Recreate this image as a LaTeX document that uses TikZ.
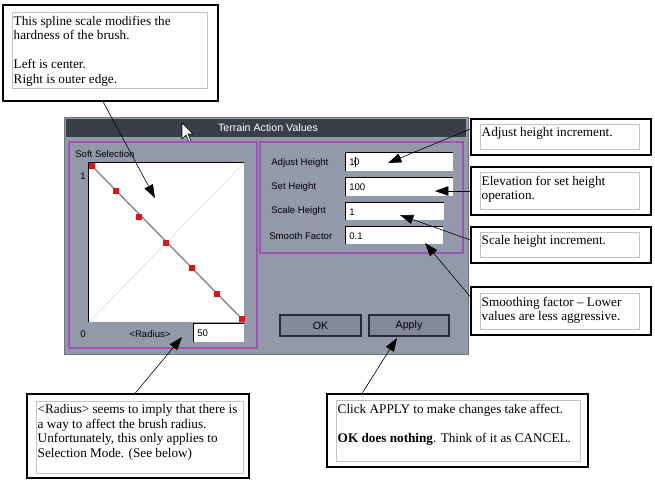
\documentclass[tikz,border=0pt]{standalone}
\usepackage{fontspec}
\setmainfont{Liberation Serif}
\setsansfont{Liberation Sans}
\usetikzlibrary{arrows.meta,fit}

\definecolor{dlgbg}{RGB}{146,154,170}
\definecolor{dlgedge}{RGB}{110,116,128}
\definecolor{dlgtitle}{RGB}{58,62,72}
\definecolor{btnbg}{RGB}{130,138,152}
\definecolor{panelline}{RGB}{160,82,182}
\definecolor{knotred}{RGB}{225,20,20}
\definecolor{hintgrey}{RGB}{195,195,195}

\tikzset{
  outerbox/.style={draw=black, line width=0.8pt, fill=white, inner sep=0pt},
  innerbox/.style={draw=hintgrey, line width=0.6pt, inner sep=0pt},
  hint/.style={font=\fontsize{9.9}{10.9}\selectfont, align=left, anchor=north west, inner sep=1.4pt, yshift=-1.5pt},
  pointer/.style={-{Triangle[length=10pt,width=7pt]}, line width=0.45pt},
  panel/.style={draw=panelline, line width=1.5pt, inner sep=0pt},
  field/.style={fill=white, inner sep=0pt},
  sunken/.style={draw=black, line width=0.8pt},
  dlgtext/.style={font=\sffamily\fontsize{7.2}{8}\selectfont, inner sep=0pt},
  button/.style={draw={rgb,255:red,40;green,43;blue,50}, line width=0.9pt, fill=btnbg, inner sep=0pt},
  knot/.style={fill=knotred}
}

\begin{document}
\begin{tikzpicture}[x=0.75pt,y=0.75pt,yscale=-1]
    \useasboundingbox (0,0) rectangle (655,479);

    %Dialog window
    \filldraw[fill=dlgbg, draw=dlgedge, line width=0.6pt] (64,117) rectangle (468,354);
    \fill[dlgtitle] (66,119) rectangle (466,137);
    \node[dlgtext, text=white, font=\sffamily\fontsize{8}{9}\selectfont] (title) at (268,128) {Terrain Action Values};
    %Mouse pointer
    \filldraw[fill=white, draw=black, line width=0.4pt] (182,123) -- ++(0,16) -- ++(4,-4) -- ++(3,7) -- ++(2,-1) -- ++(-3,-7) -- ++(5,0) -- cycle;

    %Soft selection panel
    \node[panel, fit={(69,142) (257,348)}] (softPanel) {};
    \node[dlgtext, anchor=west] (softLbl) at (75,154) {Soft Selection};
    \node[field, fit={(89,163) (244,322)}] (graph) {};
    \draw[line width=0.5pt, black!12] (graph.south west) -- (graph.north east);
    \draw[line width=1.1pt, black!30] (92,166) -- (242,319);
    \draw[line width=0.4pt, black!60] (92,166) -- (242,319);
    \foreach \px/\py in {92/166,116/191,139/217,166/243,192/268,217/294,242/319}
        \fill[knot] (\px-3,\py-3) rectangle (\px+3,\py+3);
    \node[dlgtext] (oneLbl) at (83,176) {1};
    \node[dlgtext] (zeroLbl) at (83,334) {0};
    \node[dlgtext] (radLbl) at (150,334) {<Radius>};
    \node[field, fit={(194,324) (244,342)}] (radField) {};
    \node[dlgtext, anchor=west] (radVal) at (197,333) {50};

    %Action values panel
    \node[panel, fit={(260,142) (463,253)}] (valPanel) {};
    \node[dlgtext, anchor=west] (adjLbl) at (271,163) {Adjust Height};
    \node[dlgtext, anchor=west] (setLbl) at (271,187) {Set Height};
    \node[dlgtext, anchor=west] (scaleLbl) at (271,211) {Scale Height};
    \node[dlgtext, anchor=west] (smoothLbl) at (269,236) {Smooth Factor};
    \node[field, fit={(346,153) (453,171)}] (adjField) {};
    \node[field, fit={(346,178) (453,196)}] (setField) {};
    \node[field, fit={(346,203) (444,220)}] (scaleField) {};
    \node[field, fit={(346,227) (443,244)}] (smoothField) {};
    \foreach \f in {graph,radField,adjField,setField,scaleField,smoothField}
        \draw[sunken] (\f.south west) -- (\f.north west) -- (\f.north east);
    \node[dlgtext, anchor=west] (adjVal) at (349,162) {1\kern0.3pt\rule[-1.5pt]{0.5pt}{8pt}\kern-1.2pt0};
    \node[dlgtext, anchor=west] (setVal) at (349,187) {100};
    \node[dlgtext, anchor=west] (scaleVal) at (349,212) {1};
    \node[dlgtext, anchor=west] (smoothVal) at (349,236) {0.1};

    %Buttons
    \node[button, fit={(280,315) (361,336)}] (okBtn) {};
    \node[dlgtext, font=\sffamily\fontsize{8}{9}\selectfont] at (okBtn.center) {OK};
    \node[button, fit={(369,315) (449,336)}] (applyBtn) {};
    \node[dlgtext, font=\sffamily\fontsize{8}{9}\selectfont] at (applyBtn.center) {Apply};

    %Call-out boxes
    \node[outerbox, fit={(3,5) (218,101)}] (brushBox) {};
    \node[innerbox, fit={(12,12) (207,88)}] (brushIn) {};
    \node[hint] (brushTxt) at (brushIn.north west) {This spline scale modifies the\\hardness of the brush.\\[10.9pt]Left is center.\\Right is outer edge.};

    \node[outerbox, fit={(471,119) (651,155)}] (adjBox) {};
    \node[innerbox, fit={(480,124) (639,149)}] (adjIn) {};
    \node[hint] (adjTxt) at (adjIn.north west) {Adjust height increment.};

    \node[outerbox, fit={(471,167) (651,215)}] (setBox) {};
    \node[innerbox, fit={(480,172) (639,209)}] (setIn) {};
    \node[hint] (setTxt) at (setIn.north west) {Elevation for set height\\operation.};

    \node[outerbox, fit={(471,227) (651,263)}] (scaleBox) {};
    \node[innerbox, fit={(480,232) (639,257)}] (scaleIn) {};
    \node[hint] (scaleTxt) at (scaleIn.north west) {Scale height increment.};

    \node[outerbox, fit={(471,287) (651,335)}] (smoothBox) {};
    \node[innerbox, fit={(480,293) (639,329)}] (smoothIn) {};
    \node[hint] (smoothTxt) at (smoothIn.north west) {Smoothing factor -- Lower\\values are less aggressive.};

    \node[outerbox, fit={(27,394) (249,478)}] (radBox) {};
    \node[innerbox, fit={(36,401) (243,473)}] (radIn) {};
    \node[hint] (radTxt) at (radIn.north west) {<Radius> seems to imply that there is\\a way to affect the brush radius.\\Unfortunately, this only applies to\\Selection Mode. (See below)};

    \node[outerbox, fit={(327,394) (588,467)}] (applyBox) {};
    \node[innerbox, fit={(336,400) (580,461)}] (applyIn) {};
    \node[hint] (applyTxt) at (applyIn.north west) {Click APPLY to make changes take affect.\\[10.9pt]\textbf{OK does nothing}. Think of it as CANCEL.};

    %Pointer tips
    \coordinate (brushTip) at (155,198);
    \coordinate (adjTip) at (388,163);
    \coordinate (setTip) at (435,191);
    \coordinate (scaleTip) at (400,215);
    \coordinate (smoothTip) at (425,243);
    \coordinate (radTip) at (182,337);
    \coordinate (applyTip) at (397,338);

    \draw[pointer] (brushBox.south -| 103,0) -- (brushTip);
    \draw[pointer] (adjBox.west |- 0,129) -- (adjTip);
    \draw[pointer] (setBox.west |- 0,191) -- (setTip);
    \draw[pointer] (scaleBox.west |- 0,240) -- (scaleTip);
    \draw[pointer] (smoothBox.west |- 0,297) -- (smoothTip);
    \draw[pointer] (radBox.north -| 135,0) -- (radTip);
    \draw[pointer] (applyBox.north -| 362,0) -- (applyTip);
\end{tikzpicture}
\end{document}
